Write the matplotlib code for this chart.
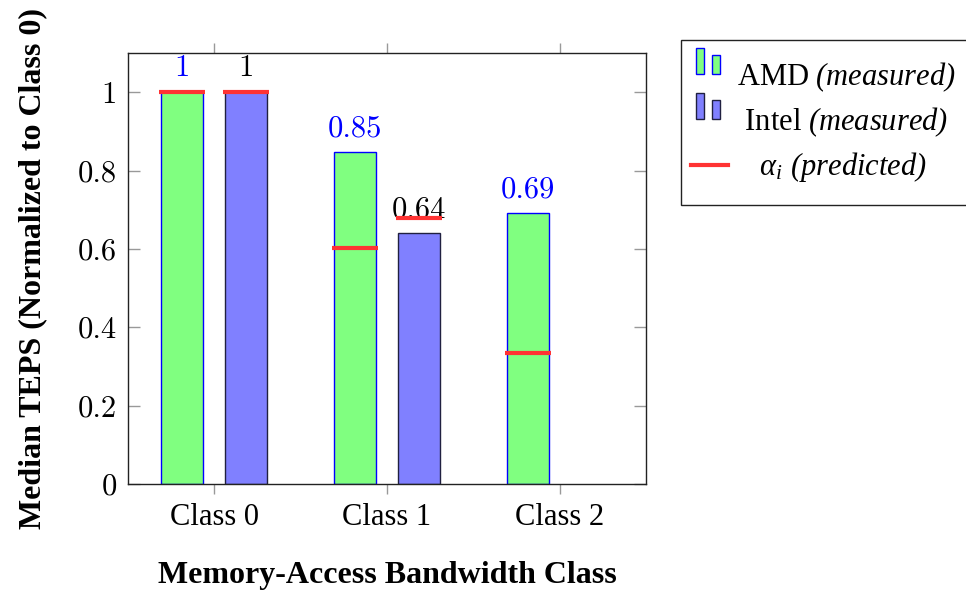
import matplotlib
matplotlib.use('Agg')
import matplotlib.pyplot as plt
import numpy as np
from matplotlib.patches import Rectangle, Patch
from matplotlib.lines import Line2D
from matplotlib.legend_handler import HandlerBase

plt.rcParams['font.family'] = ['Liberation Serif', 'DejaVu Serif']
# mathtext only used for the italic legend parts
plt.rcParams['mathtext.fontset'] = 'custom'
plt.rcParams['mathtext.rm'] = 'Liberation Serif:italic'
plt.rcParams['mathtext.it'] = 'Liberation Serif:italic'
plt.rcParams['mathtext.bf'] = 'Liberation Serif:bold'

# data
classes = ['Class 0', 'Class 1', 'Class 2']
amd = [1.0, 0.847, 0.692]
intel = [1.0, 0.64]
amd_labels = ['1', '0.85', '0.69']
intel_labels = ['1', '0.64']
amd_pred = [1.0, 0.603, 0.335]
intel_pred = [1.0, 0.68]
yticks = [0, 0.2, 0.4, 0.6, 0.8, 1.0]
ytick_labels = ['0', '0.2', '0.4', '0.6', '0.8', '1']

green = '#80ff80'
purple = '#8080ff'
red = '#ff3333'

fig = plt.figure(figsize=(9.66, 5.92), dpi=100)
ax = fig.add_axes([128 / 966, 108 / 592, 518 / 966, 431 / 592])

x = np.arange(len(classes))
off = 0.185
bw = 0.243
half = 0.133

xa = x - off
xi = x[:len(intel)] + off

ax.bar(xa, amd, width=bw, color=green, edgecolor='#0000ff', linewidth=1.0, zorder=2)
ax.bar(xi, intel, width=bw, color=purple, edgecolor='#202040', linewidth=1.0, zorder=2)

ax.hlines(amd_pred, xa - half, xa + half, color=red, linewidth=3, zorder=3)
ax.hlines(intel_pred, xi - half, xi + half, color=red, linewidth=3, zorder=3)

# value labels
for xx, v, s in zip(xa, amd, amd_labels):
    ax.annotate(s, (xx, v), xytext=(0, 7), textcoords='offset points',
                ha='center', va='bottom', color='#0000ff', fontsize=22,
                family='cmr10', zorder=4)
for xx, v, s in zip(xi, intel, intel_labels):
    ax.annotate(s, (xx, v), xytext=(0, 7), textcoords='offset points',
                ha='center', va='bottom', color='black', fontsize=22,
                family='cmr10', zorder=2.5)

ax.set_xlim(-0.5, 2.5)
ax.set_ylim(0, 1.1)
ax.set_xticks(x)
ax.set_xticklabels(classes, fontsize=22)
ax.set_yticks(yticks)
ax.set_yticklabels(ytick_labels, fontsize=22, family='cmr10')

ax.tick_params(axis='x', direction='out', top=True, length=7.5, width=1,
               color='#999999', pad=6)
ax.tick_params(axis='y', direction='in', right=True, length=8.5, width=1,
               color='#999999', pad=8)
for sp in ax.spines.values():
    sp.set_linewidth(1.0)
    sp.set_color('#222222')

ax.set_xlabel('Memory-Access Bandwidth Class', fontsize=23, fontweight='bold', labelpad=21)
ax.set_ylabel('Median TEPS (Normalized to Class 0)', fontsize=23, fontweight='bold', labelpad=22)


# legend handles: two small bars above the baseline, like pgfplots ybar legend
class TwoBars(HandlerBase):
    def __init__(self, fc, ec):
        super().__init__()
        self.fc = fc
        self.ec = ec

    def create_artists(self, legend, orig_handle, xdescent, ydescent,
                       width, height, fontsize, trans):
        w = width * 0.29
        y0 = 0.38 * fontsize
        r1 = Rectangle((-xdescent - width * 0.22, y0), w, 0.84 * fontsize,
                       facecolor=self.fc, edgecolor=self.ec, lw=1, transform=trans)
        r2 = Rectangle((-xdescent + width * 0.36, y0), w, 0.62 * fontsize,
                       facecolor=self.fc, edgecolor=self.ec, lw=1, transform=trans)
        return [r1, r2]


class MidLine(HandlerBase):
    def create_artists(self, legend, orig_handle, xdescent, ydescent,
                       width, height, fontsize, trans):
        y = 0.33 * fontsize
        ln = Line2D([-xdescent - 0.4 * width, -xdescent + 0.95 * width], [y, y],
                    color=red, lw=3, transform=trans)
        return [ln]


h_amd = Patch()
h_intel = Patch()
h_pred = Line2D([], [])
leg = fig.legend([h_amd, h_intel, h_pred],
                 [r'AMD $(measured)$',
                  r' Intel $(measured)$',
                  r'   $\alpha_i$ $(predicted)$'],
                 handler_map={h_amd: TwoBars(green, '#0000ff'),
                              h_intel: TwoBars(purple, '#202040'),
                              h_pred: MidLine()},
                 loc='upper left', bbox_to_anchor=(681 / 966, 552 / 592),
                 borderaxespad=0, fontsize=22, frameon=True, fancybox=False,
                 edgecolor='#222222', framealpha=1, handlelength=0.9,
                 handletextpad=0.25, labelspacing=0.36, borderpad=0.68)
leg.get_frame().set_linewidth(1.0)

fig.savefig('out.png', dpi=100)
